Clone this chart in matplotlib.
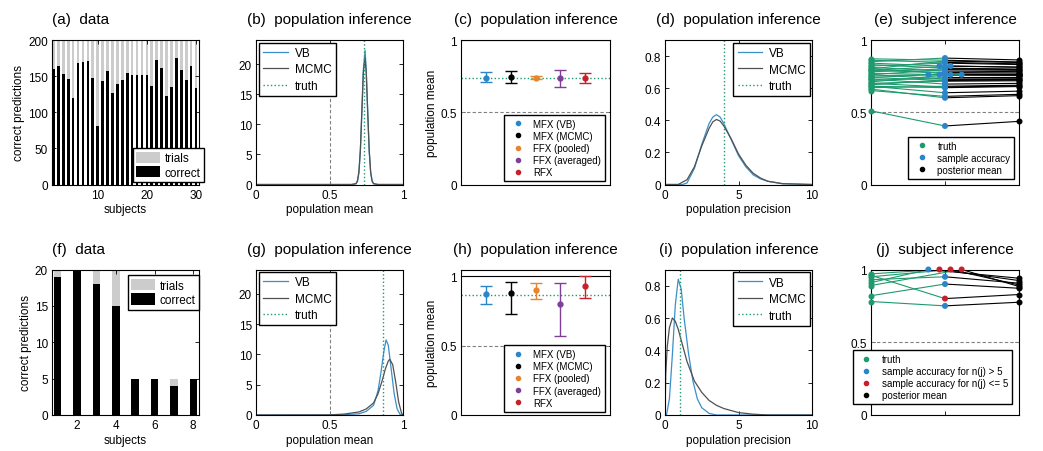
import matplotlib
matplotlib.use('Agg')
import matplotlib.pyplot as plt
from matplotlib.lines import Line2D
import numpy as np

plt.rcParams['font.family'] = ['Liberation Sans', 'DejaVu Sans']
plt.rcParams['font.size'] = 8.5
plt.rcParams['axes.linewidth'] = 0.8

# ---- data ----

# (a) 30 subjects, 200 trials each
subjects_a = np.arange(1, 31)
trials_a = [200] * 30
correct_a = [160, 164, 153, 146, 120, 168, 169, 171, 148, 81,
             143, 157, 127, 139, 145, 155, 152, 152, 152, 152,
             136, 172, 161, 122, 135, 175, 159, 144, 164, 134]

# (f) 8 subjects, unbalanced trials
subjects_f = np.arange(1, 9)
trials_f = [20, 20, 20, 20, 5, 5, 5, 5]
correct_f = [19, 20, 18, 15, 5, 5, 4, 5]

# (b) posterior of population mean
b_x = [0, 0.65, 0.68, 0.69, 0.70, 0.71, 0.72, 0.73, 0.742, 0.75, 0.76,
       0.77, 0.78, 0.79, 0.80, 0.83, 1]
b_vb = [0, 0, 0.1, 0.5, 1.9, 5.5, 12, 19, 22.3, 19, 12, 5.5, 1.9, 0.5, 0.1, 0, 0]
b_mcmc = [0, 0, 0.15, 0.6, 2.1, 5.8, 12, 18.5, 21, 18.5, 12, 5.8, 2.1, 0.6, 0.15, 0, 0]
b_truth = 0.735

# (g) posterior of population mean
g_x_vb = [0, 0.5, 0.6, 0.7, 0.75, 0.8, 0.83, 0.85, 0.87, 0.885, 0.9, 0.92,
          0.94, 0.96, 0.98, 1]
g_vb = [0, 0, 0.05, 0.2, 0.6, 1.6, 4, 7, 10.5, 12.4, 11.5, 7.5, 3.5, 1, 0.1, 0]
g_x_mcmc = [0, 0.5, 0.6, 0.7, 0.75, 0.8, 0.83, 0.86, 0.88, 0.9, 0.91, 0.93,
            0.95, 0.97, 0.99, 1]
g_mcmc = [0, 0.02, 0.15, 0.5, 1, 2, 3.5, 5.8, 7.6, 8.9, 9.2, 8.3, 5.5, 2.2, 0.3, 0]
g_truth = 0.865

# (d) posterior of population precision
d_x_vb = [0, 1.2, 1.5, 2, 2.5, 3, 3.25, 3.5, 3.75, 4, 4.5, 5, 5.5, 6, 6.5,
          7, 8, 10]
d_vb = [0, 0, 0.01, 0.1, 0.25, 0.38, 0.42, 0.435, 0.42, 0.38, 0.28, 0.18,
        0.11, 0.06, 0.035, 0.02, 0.005, 0]
d_x_mcmc = [0, 0.9, 1.5, 2, 2.5, 3, 3.25, 3.5, 3.75, 4, 4.5, 5, 5.5, 6, 6.5,
            7, 8, 10]
d_mcmc = [0, 0, 0.03, 0.11, 0.24, 0.35, 0.39, 0.405, 0.395, 0.365, 0.285,
          0.19, 0.12, 0.07, 0.04, 0.02, 0.005, 0]
d_truth = 4

# (i) posterior of population precision
i_x_vb = [0, 0.1, 0.3, 0.5, 0.7, 0.9, 1.1, 1.3, 1.6, 1.9, 2.2, 2.5, 3, 3.5, 10]
i_vb = [0, 0, 0.1, 0.37, 0.68, 0.84, 0.78, 0.6, 0.38, 0.21, 0.1, 0.045,
        0.01, 0, 0]
i_x_mcmc = [0, 0.05, 0.15, 0.3, 0.5, 0.7, 0.9, 1.2, 1.5, 2, 2.5, 3, 3.5, 4,
            5, 6, 7, 10]
i_mcmc = [0, 0.25, 0.42, 0.54, 0.6, 0.58, 0.53, 0.43, 0.33, 0.21, 0.14,
          0.09, 0.06, 0.04, 0.015, 0.005, 0, 0]
i_truth = 1

# (c), (h) point estimates with intervals
methods = ['MFX (VB)', 'MFX (MCMC)', 'FFX (pooled)', 'FFX (averaged)', 'RFX']
method_colors = ['#2a86c8', '#000000', '#e8852a', '#7e3f99', '#c8202a']
c_mean = [0.739, 0.745, 0.739, 0.734, 0.739]
c_low = [0.709, 0.705, 0.728, 0.675, 0.705]
c_high = [0.780, 0.784, 0.750, 0.795, 0.772]
c_truth = 0.739
h_mean = [0.875, 0.880, 0.899, 0.798, 0.928]
h_low = [0.798, 0.730, 0.836, 0.572, 0.841]
h_high = [0.930, 0.957, 0.952, 0.952, 1.004]
h_truth = 0.867

# (e), (j) subject-level inference
e_truth = [0.78, 0.84, 0.74, 0.76, 0.66, 0.82, 0.86, 0.80, 0.72, 0.51,
           0.70, 0.81, 0.68, 0.73, 0.69, 0.79, 0.75, 0.77, 0.71, 0.80,
           0.67, 0.87, 0.83, 0.65, 0.70, 0.85, 0.76, 0.74, 0.79, 0.68]
e_post = [0.795, 0.812, 0.763, 0.732, 0.615, 0.830, 0.835, 0.844, 0.741, 0.437,
          0.718, 0.781, 0.646, 0.700, 0.727, 0.772, 0.758, 0.758, 0.758, 0.758,
          0.687, 0.848, 0.799, 0.624, 0.682, 0.862, 0.790, 0.723, 0.812, 0.678]
j_truth = [0.93, 0.91, 0.82, 0.78, 0.97, 0.95, 0.96, 0.89]
j_post = [0.906, 0.940, 0.871, 0.775, 0.924, 0.894, 0.828, 0.883]

# ---- styles ----
green = '#1f9a6e'
blue = '#2a86c8'
red = '#c8202a'
vb_col = '#3a8fc8'
mcmc_col = '#505050'
gray_bar = '#cccccc'

W, H = 1043, 452
fig = plt.figure(figsize=(W / 100, H / 100), dpi=100)


def make_ax(l, r, t, b):
    ax = fig.add_axes([l / W, 1 - b / H, (r - l) / W, (b - t) / H])
    ax.tick_params(direction='in', which='both', top=True, right=True,
                   length=3, width=0.6, labelsize=8.5, pad=3)
    return ax


cols = [(52, 199), (256, 403), (461, 610), (665, 812), (871, 1019)]
rows = [(41, 185.5), (270.5, 416)]


def title(ax, text, left=False):
    if left:
        ax.set_title(text, loc='left', fontsize=11, pad=12)
    else:
        ax.set_title(text, fontsize=11, pad=12)


def jitter(vals, step=0.15):
    vals = np.round(np.asarray(vals, float), 4)
    off = np.zeros(len(vals))
    for v in np.unique(vals):
        idx = np.where(vals == v)[0]
        if len(idx) > 1:
            off[idx] = (np.arange(len(idx)) - (len(idx) - 1) / 2) * step
    return off


def line_legend(ax, loc, anchor):
    ax.legend(loc=loc, bbox_to_anchor=anchor, fontsize=8.5,
              fancybox=False, edgecolor='k', framealpha=1, handlelength=2.1,
              labelspacing=0.38, borderpad=0.35, handletextpad=0.55,
              borderaxespad=0)


def dot_legend(ax, labels, colors, anchor):
    handles = [Line2D([], [], ls='none', marker='o', ms=3, color=c)
               for c in colors]
    ax.legend(handles, labels, loc='lower right', bbox_to_anchor=anchor,
              fontsize=7, fancybox=False, edgecolor='k', framealpha=1,
              handlelength=2.0, labelspacing=0.22, borderpad=0.4,
              handletextpad=0.6, borderaxespad=0)


def data_panel(ax, subj, trials, correct, width, xlim, ylim, yticks, xticks,
               letter, leg_loc, leg_anchor):
    ax.bar(subj, trials, width=width, color=gray_bar, label='trials')
    ax.bar(subj, correct, width=width, color='k', label='correct')
    ax.set_xlim(*xlim)
    ax.set_ylim(*ylim)
    ax.set_yticks(yticks)
    ax.set_xticks(xticks)
    ax.set_xlabel('subjects', labelpad=2)
    ax.set_ylabel('correct predictions', labelpad=2)
    title(ax, letter + '  data', left=True)
    ax.legend(loc=leg_loc, bbox_to_anchor=leg_anchor, fontsize=8.5,
              fancybox=False, edgecolor='k', framealpha=1, handlelength=2.0,
              handleheight=1.1, labelspacing=0.15, borderpad=0.3,
              handletextpad=0.4, borderaxespad=0)


def mean_panel(ax, xv, vb, xm, mc, truth, letter):
    ax.axvline(0.5, color='#808080', ls='--', lw=0.8, dashes=(3, 2))
    ax.plot(xv, vb, color=vb_col, lw=0.9, label='VB')
    ax.plot(xm, mc, color=mcmc_col, lw=0.9, label='MCMC')
    ax.axvline(truth, color=green, ls=':', lw=1.0, label='truth')
    ax.set_xlim(0, 1)
    ax.set_ylim(0, 24)
    ax.set_xticks([0, 0.5, 1])
    ax.set_xticklabels(['0', '0.5', '1'])
    ax.set_yticks([0, 5, 10, 15, 20])
    ax.set_xlabel('population mean', labelpad=2)
    title(ax, letter + '  population inference')
    line_legend(ax, 'upper left', (0.022, 0.982))


def prec_panel(ax, xv, vb, xm, mc, truth, letter):
    ax.plot(xv, vb, color=vb_col, lw=0.9, label='VB')
    ax.plot(xm, mc, color=mcmc_col, lw=0.9, label='MCMC')
    ax.axvline(truth, color=green, ls=':', lw=1.0, label='truth')
    ax.set_xlim(0, 10)
    ax.set_ylim(0, 0.9)
    ax.set_xticks([0, 5, 10])
    ax.set_yticks([0, 0.2, 0.4, 0.6, 0.8])
    ax.set_yticklabels(['0', '0.2', '0.4', '0.6', '0.8'])
    ax.set_xlabel('population precision', labelpad=2)
    title(ax, letter + '  population inference')
    line_legend(ax, 'upper right', (0.985, 0.98))


def est_panel(ax, mean, low, high, truth, letter, ylim):
    ax.axhline(0.5, color='#808080', ls='--', lw=0.8, dashes=(3, 2))
    ax.axhline(1, color='k', lw=0.8)
    ax.axhline(truth, color=green, ls=':', lw=1.0)
    mean = np.asarray(mean)
    yerr = [mean - np.asarray(low), np.asarray(high) - mean]
    for k in range(len(methods)):
        ax.errorbar([k + 1], [mean[k]], yerr=[[yerr[0][k]], [yerr[1][k]]],
                    fmt='o', color=method_colors[k], ms=3.5, capsize=4.5,
                    elinewidth=1, capthick=1)
    ax.set_xlim(0, 6)
    ax.set_ylim(*ylim)
    ax.set_xticks([])
    ax.set_yticks([0, 0.5, 1])
    ax.set_yticklabels(['0', '0.5', '1'])
    ax.set_ylabel('population mean', labelpad=2)
    title(ax, letter + '  population inference')
    dot_legend(ax, methods, method_colors, (0.967, 0.023))


def subj_panel(ax, truth, acc, post, acc_colors, labels, handles_cols,
               letter, leg_anchor):
    ax.axhline(0.5, color='#808080', ls='--', lw=0.8, dashes=(3, 2))
    xj = 2 + jitter(acc)
    for k in range(len(acc)):
        ax.plot([1, xj[k]], [truth[k], acc[k]], color=green, lw=0.8)
        ax.plot([xj[k], 3], [acc[k], post[k]], color='k', lw=0.8)
    ax.plot(np.ones(len(truth)), truth, 'o', color=green, ms=3.3,
            clip_on=False, zorder=5)
    ax.scatter(xj, acc, s=11, c=acc_colors, zorder=5, clip_on=False)
    ax.plot(3 * np.ones(len(post)), post, 'o', color='k', ms=3.3,
            clip_on=False, zorder=5)
    ax.set_xlim(1, 3)
    ax.set_ylim(0, 1)
    ax.set_xticks([1, 2, 3])
    ax.set_xticklabels([])
    ax.set_yticks([0, 0.5, 1])
    ax.set_yticklabels(['0', '0.5', '1'])
    title(ax, letter + '  subject inference')
    dot_legend(ax, labels, handles_cols, leg_anchor)


# ---- top row ----
t, b = rows[0]
ax = make_ax(*cols[0], t, b)
data_panel(ax, subjects_a, trials_a, correct_a, 0.55, (0.7, 30.6), (0, 200),
           [0, 50, 100, 150, 200], [10, 20, 30], '(a)', 'lower right',
           (1.034, 0.016))

ax = make_ax(*cols[1], t, b)
mean_panel(ax, b_x, b_vb, b_x, b_mcmc, b_truth, '(b)')

ax = make_ax(*cols[2], t, b)
est_panel(ax, c_mean, c_low, c_high, c_truth, '(c)', (0, 1))

ax = make_ax(*cols[3], t, b)
prec_panel(ax, d_x_vb, d_vb, d_x_mcmc, d_mcmc, d_truth, '(d)')

ax = make_ax(*cols[4], t, b)
acc_a = np.array(correct_a) / np.array(trials_a)
subj_panel(ax, e_truth, acc_a, e_post, [blue] * len(acc_a),
           ['truth', 'sample accuracy', 'posterior mean'],
           [green, blue, 'k'], '(e)', (0.968, 0.04))

# ---- bottom row ----
t, b = rows[1]
ax = make_ax(*cols[0], t, b)
data_panel(ax, subjects_f, trials_f, correct_f, 0.38, (0.7, 8.3), (0, 20),
           [0, 5, 10, 15, 20], [2, 4, 6, 8], '(f)', 'upper right',
           (1.0, 0.96))

ax = make_ax(*cols[1], t, b)
mean_panel(ax, g_x_vb, g_vb, g_x_mcmc, g_mcmc, g_truth, '(g)')

ax = make_ax(*cols[2], t, b)
est_panel(ax, h_mean, h_low, h_high, h_truth, '(h)', (0, 1.05))

ax = make_ax(*cols[3], t, b)
prec_panel(ax, i_x_vb, i_vb, i_x_mcmc, i_mcmc, i_truth, '(i)')

ax = make_ax(*cols[4], t, b)
acc_f = np.array(correct_f) / np.array(trials_f)
acc_cols = [blue if n > 5 else red for n in trials_f]
subj_panel(ax, j_truth, acc_f, j_post, acc_cols,
           ['truth', 'sample accuracy for n(j) > 5',
            'sample accuracy for n(j) <= 5', 'posterior mean'],
           [green, blue, red, 'k'], '(j)', (0.953, 0.074))

fig.savefig('out.png', dpi=100)
